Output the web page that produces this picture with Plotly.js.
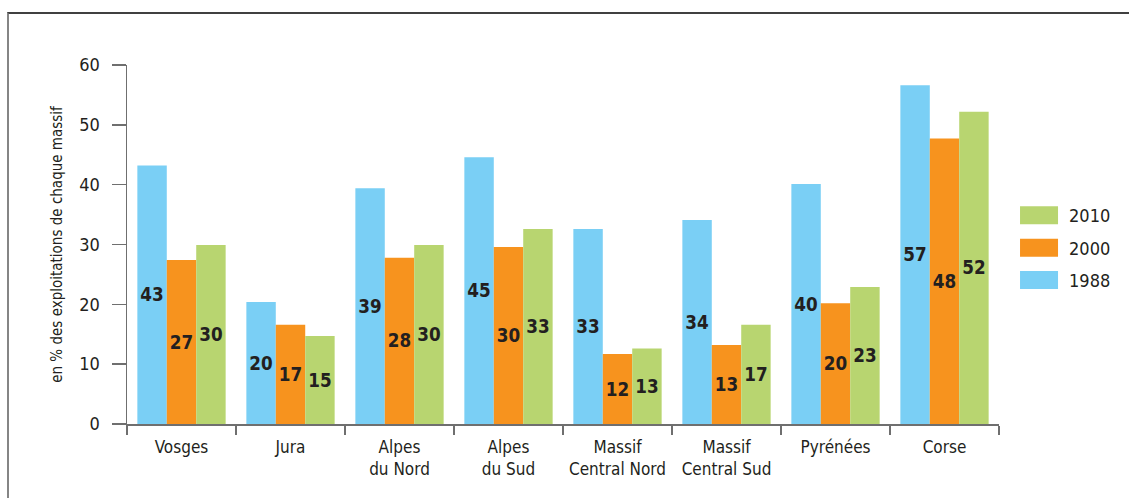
<!DOCTYPE html>
<html>
<head>
<meta charset="utf-8">
<script src="https://cdn.plot.ly/plotly-3.0.1.min.js"></script>
<style>
  html, body { margin: 0; padding: 0; background: #ffffff; }
  #frame {
    position: absolute; left: 7px; top: 12px; width: 1200px; height: 600px;
    border-top: 2px solid #404040; border-left: 2px solid #858585;
  }
  #chart { position: absolute; left: 0; top: 0; width: 1129px; height: 498px; }
</style>
</head>
<body>
<div id="frame"></div>
<div id="chart"></div>
<script>
// Massifs (category axis), with line breaks for the two-line labels
const massifs = [
  'Vosges', 'Jura', 'Alpes<br>du Nord', 'Alpes<br>du Sud',
  'Massif<br>Central Nord', 'Massif<br>Central Sud', 'Pyrénées', 'Corse'
];

// Share of farms in each massif, in %
const values1988 = [43.2, 20.4, 39.4, 44.6, 32.6, 34.1, 40.1, 56.6];
const values2000 = [27.4, 16.6, 27.8, 29.6, 11.7, 13.2, 20.2, 47.7];
const values2010 = [29.9, 14.7, 29.9, 32.6, 12.6, 16.6, 22.9, 52.2];

const yTicks = [0, 10, 20, 30, 40, 50, 60];

const NARROW = '"Liberation Sans Narrow", "DejaVu Sans Condensed", "Roboto Condensed", sans-serif';
const INK = '#231f20';
const AXIS = '#6f6f6f';

function barTrace(name, y, color, rank) {
  return {
    type: 'bar',
    name: name,
    x: massifs,
    y: y,
    legendgroup: name,
    legendrank: rank,
    marker: { color: color, line: { width: 0 } },
    text: y.map(v => String(Math.round(v))),
    textposition: 'inside',
    insidetextanchor: 'middle',
    textangle: 0,
    textfont: { family: NARROW, size: 20, color: INK, weight: 'bold' },
    hoverinfo: 'skip'
  };
}

// latest year listed first in the legend
const data = [
  barTrace('1988', values1988, '#7acff5', 3),
  barTrace('2000', values2000, '#f7931e', 2),
  barTrace('2010', values2010, '#b8d570', 1)
];

const layout = {
  width: 1129,
  height: 498,
  margin: { l: 127, r: 130, t: 65, b: 74 },
  paper_bgcolor: 'rgba(0,0,0,0)',
  plot_bgcolor: 'rgba(0,0,0,0)',
  barmode: 'group',
  bargap: 0.19,
  bargroupgap: 0,
  font: { family: NARROW, color: INK, size: 17 },
  showlegend: true,
  legend: {
    x: 1.0115, xanchor: 'left',
    y: 0.632, yanchor: 'top',
    traceorder: 'grouped',
    tracegroupgap: 6,
    itemwidth: 50,
    font: { family: NARROW, size: 18, color: INK },
    bgcolor: 'rgba(0,0,0,0)'
  },
  xaxis: {
    type: 'category',
    showline: true, linecolor: AXIS, linewidth: 1.5,
    ticks: 'outside', ticklen: 9, tickwidth: 1.5, tickcolor: AXIS,
    tickson: 'boundaries',
    ticklabelstandoff: 7,
    showgrid: false, zeroline: false,
    tickfont: { family: NARROW, size: 17, color: INK },
    fixedrange: true
  },
  yaxis: {
    range: [0, 60],
    tickvals: yTicks,
    ticktext: yTicks.map(String),
    showline: true, linecolor: AXIS, linewidth: 1.5,
    ticks: 'outside', ticklen: 14, tickwidth: 1.5, tickcolor: AXIS,
    ticklabelstandoff: 8,
    showgrid: false, zeroline: false,
    tickfont: { family: NARROW, size: 18, color: INK },
    title: {
      text: 'en % des exploitations de chaque massif',
      font: { family: NARROW, size: 15, color: INK },
      standoff: 13
    },
    automargin: false,
    fixedrange: true
  }
};

Plotly.newPlot('chart', data, layout, { displayModeBar: false, staticPlot: true }).then(gd => {
  // wider, flatter legend swatches
  gd.querySelectorAll('.legend .legendpoints path').forEach(p => {
    p.setAttribute('d', 'M-19,-9H19V9H-19Z');
  });
});
</script>
</body>
</html>
